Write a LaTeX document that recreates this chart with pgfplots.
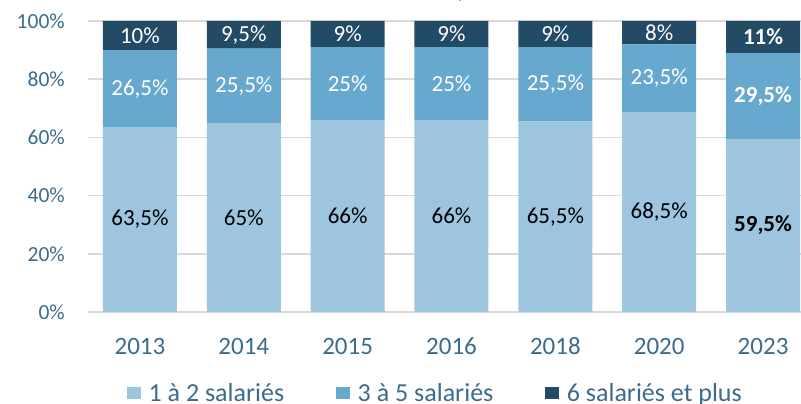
\documentclass[border=0pt]{standalone}
\usepackage{pgfplots}
\usepackage{pgfplotstable}
\pgfplotsset{compat=1.18}
\usepackage{fontspec}
\setmainfont{Carlito}
\definecolor{cLight}{HTML}{9DC5E0}
\definecolor{cMid}{HTML}{67A8CF}
\definecolor{cDark}{HTML}{234B66}
\definecolor{cText}{HTML}{3C6B8E}
\definecolor{cGrid}{HTML}{D9D9D9}
\pgfplotstableread{
x a b c
0 63.5 26.5 10
1 65 25.5 9.5
2 66 25 9
3 66 25 9
4 65.5 25.5 9
5 68.5 23.5 8
6 59.5 29.5 11
}\data
\begin{document}
\begin{tikzpicture}
\begin{axis}[
  scale only axis,
  width=727pt, height=291pt,
  ybar stacked,
  bar width=74pt,
  xmin=-0.5, xmax=6.5,
  ymin=0, ymax=100,
  xtick={0,1,2,3,4,5,6},
  xticklabels={2013,2014,2015,2016,2018,2020,2023},
  ytick={0,20,40,60,80,100},
  yticklabels={0\%,20\%,40\%,60\%,80\%,100\%},
  major tick length=0pt,
  axis line style={draw=none},
  ymajorgrids,
  grid style={cGrid, line width=1.6pt},
  /pgf/number format/assume math mode=true,
  xticklabel style={font=\fontsize{25}{30}\selectfont, text=cText, anchor=base, yshift=-42pt},
  yticklabel style={font=\fontsize{21.5}{26}\selectfont, text=cText, anchor=east, inner sep=0pt, xshift=-23pt},
  title={(en \% d'entreprises)},
  title style={font=\fontsize{22}{26}\selectfont, text=cText, at={(0.468,1)}, anchor=base, yshift=17pt, inner sep=0pt},
  nodes near coords={\pgfmathprintnumber[use comma,fixed,precision=1,assume math mode=true]{\pgfplotspointmeta}\%},
  nodes near coords align={center},
  legend columns=-1,
  legend style={at={(0.4766,-0.23)}, anchor=north, draw=none, fill=none,
    font=\fontsize{26}{30}\selectfont, text=cText,
    nodes={inner xsep=0pt},
    /tikz/every odd column/.append style={column sep=8pt},
    /tikz/every even column/.append style={column sep=52pt}},
  legend image code/.code={\fill[#1] (0pt,-6.5pt) rectangle (13.5pt,6pt);},
]
\addplot[fill=cLight, draw=none,
  visualization depends on={\thisrow{x} \as \xx},
  every node near coord/.append style={text=black, anchor=center,
    font=\fontsize{23}{27}\selectfont\ifdim\xx pt>5.5pt\bfseries\fi}]
  table[x=x, y=a, meta=a] {\data};
\addplot[fill=cMid, draw=none,
  visualization depends on={\thisrow{x} \as \xx},
  every node near coord/.append style={text=white, anchor=center,
    font=\fontsize{23}{27}\selectfont\ifdim\xx pt>5.5pt\bfseries\fi}]
  table[x=x, y=b, meta=b] {\data};
\addplot[fill=cDark, draw=none,
  visualization depends on={\thisrow{x} \as \xx},
  every node near coord/.append style={text=white, anchor=center,
    font=\fontsize{23}{27}\selectfont\ifdim\xx pt>5.5pt\bfseries\fi}]
  table[x=x, y=c, meta=c] {\data};
\legend{1 à 2 salariés, 3 à 5 salariés, 6 salariés et plus}
\end{axis}
\pgfresetboundingbox
\useasboundingbox (-88pt,-92pt) rectangle (713pt,312pt);
\end{tikzpicture}
\end{document}
